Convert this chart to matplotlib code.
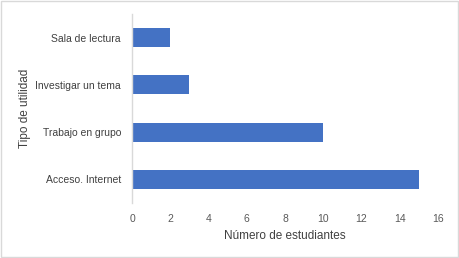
import matplotlib
matplotlib.use('Agg')
import matplotlib.pyplot as plt
from matplotlib.patches import Rectangle

# Data
categorias = ['Acceso. Internet', 'Trabajo en grupo', 'Investigar un tema', 'Sala de lectura']
estudiantes = [15, 10, 3, 2]
xticks = [0, 2, 4, 6, 8, 10, 12, 14, 16]

plt.rcParams['font.family'] = ['Liberation Sans', 'DejaVu Sans']

fig = plt.figure(figsize=(4.59, 2.58), dpi=100)
ax = fig.add_axes([0.2876, 0.2132, 0.6664, 0.7325])

ax.barh(range(len(categorias)), estudiantes, height=0.4, color='#4472C4')
ax.set_yticks(range(len(categorias)))
ax.set_yticklabels(categorias, fontsize=7.5, color='#404040')
ax.set_xticks(xticks)
ax.set_xticklabels([str(v) for v in xticks], fontsize=7.5, color='#595959')
ax.set_xlim(0, 16)
ax.set_ylim(-0.5, 3.5)

for s in ['top', 'right', 'bottom']:
    ax.spines[s].set_visible(False)
ax.spines['left'].set_color('#d9d9d9')
ax.spines['left'].set_linewidth(1.0)
ax.tick_params(axis='both', length=0)
ax.tick_params(axis='y', pad=8)
ax.tick_params(axis='x', pad=8)

ax.set_xlabel('Número de estudiantes', fontsize=8.5, color='#404040', labelpad=4)
ax.set_ylabel('Tipo de utilidad', fontsize=8.5, color='#404040', labelpad=3)

# Outer border
fig.patches.append(Rectangle((0.003, 0.004), 0.994, 0.992, transform=fig.transFigure,
                             fill=False, edgecolor='#d9d9d9', linewidth=1.0))

plt.savefig('out.png', dpi=100)
